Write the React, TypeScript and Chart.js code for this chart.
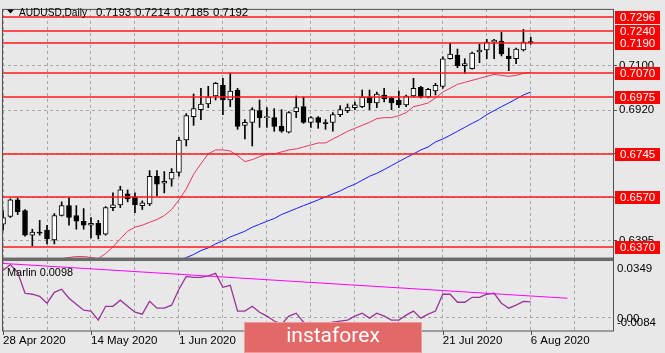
import React, { useEffect, useRef } from 'react';
import { Chart, registerables } from 'chart.js';

Chart.register(...registerables);

// ---------- data ----------
const opens = [0.6461, 0.6492, 0.6559, 0.6516, 0.6417, 0.6429, 0.6437, 0.6398, 0.6496, 0.6536, 0.6496, 0.6473, 0.6457, 0.6465, 0.6421, 0.6528, 0.6539, 0.6583, 0.6571, 0.6536, 0.6543, 0.6654, 0.6626, 0.6642, 0.6670, 0.6800, 0.6894, 0.6922, 0.6945, 0.6977, 0.7020, 0.6961, 0.7001, 0.6859, 0.6871, 0.6918, 0.6890, 0.6890, 0.6855, 0.6831, 0.6914, 0.6934, 0.6871, 0.6890, 0.6867, 0.6871, 0.6902, 0.6918, 0.6930, 0.6934, 0.6973, 0.6949, 0.6981, 0.6969, 0.6961, 0.6941, 0.6977, 0.7012, 0.6973, 0.6997, 0.7016, 0.7127, 0.7142, 0.7099, 0.7087, 0.7154, 0.7162, 0.7194, 0.7198, 0.7138, 0.7127, 0.7162, 0.7193];
const highs = [0.6516, 0.6563, 0.6567, 0.6520, 0.6441, 0.6477, 0.6457, 0.6504, 0.6551, 0.6567, 0.6536, 0.6524, 0.6488, 0.6477, 0.6532, 0.6587, 0.6614, 0.6599, 0.6587, 0.6555, 0.6677, 0.6677, 0.6673, 0.6685, 0.6811, 0.6906, 0.6985, 0.7008, 0.7016, 0.7032, 0.7048, 0.7068, 0.7008, 0.6882, 0.6930, 0.6961, 0.6930, 0.6926, 0.6922, 0.6914, 0.6977, 0.6973, 0.6894, 0.6894, 0.6882, 0.6910, 0.6938, 0.6945, 0.6953, 0.7001, 0.7001, 0.6993, 0.7008, 0.6972, 0.6997, 0.6981, 0.7048, 0.7016, 0.7008, 0.7028, 0.7135, 0.7190, 0.7166, 0.7127, 0.7154, 0.7186, 0.7205, 0.7205, 0.7233, 0.7170, 0.7170, 0.7245, 0.7214];
const lows = [0.6437, 0.6488, 0.6500, 0.6413, 0.6374, 0.6417, 0.6382, 0.6382, 0.6494, 0.6457, 0.6441, 0.6441, 0.6406, 0.6402, 0.6417, 0.6516, 0.6528, 0.6551, 0.6508, 0.6520, 0.6536, 0.6575, 0.6587, 0.6614, 0.6654, 0.6776, 0.6859, 0.6882, 0.6930, 0.6961, 0.6902, 0.6934, 0.6843, 0.6804, 0.6776, 0.6851, 0.6851, 0.6835, 0.6831, 0.6828, 0.6890, 0.6867, 0.6851, 0.6847, 0.6843, 0.6835, 0.6894, 0.6910, 0.6922, 0.6930, 0.6922, 0.6930, 0.6953, 0.6922, 0.6930, 0.6934, 0.6973, 0.6969, 0.6969, 0.6981, 0.7008, 0.7125, 0.7091, 0.7068, 0.7085, 0.7111, 0.7127, 0.7127, 0.7138, 0.7079, 0.7107, 0.7158, 0.7185];
const closes = [0.6488, 0.6559, 0.6512, 0.6417, 0.6429, 0.6425, 0.6402, 0.6496, 0.6536, 0.6488, 0.6473, 0.6457, 0.6465, 0.6417, 0.6528, 0.6539, 0.6599, 0.6563, 0.6539, 0.6547, 0.6654, 0.6622, 0.6634, 0.6670, 0.6800, 0.6898, 0.6926, 0.6945, 0.6973, 0.7028, 0.6961, 0.6997, 0.6855, 0.6871, 0.6922, 0.6890, 0.6894, 0.6855, 0.6835, 0.6910, 0.6930, 0.6871, 0.6890, 0.6871, 0.6866, 0.6902, 0.6922, 0.6930, 0.6941, 0.6973, 0.6949, 0.6985, 0.6965, 0.6949, 0.6941, 0.6977, 0.7008, 0.6973, 0.7004, 0.7020, 0.7127, 0.7146, 0.7099, 0.7107, 0.7150, 0.7162, 0.7194, 0.7202, 0.7146, 0.7127, 0.7166, 0.7194, 0.7192];

const maRed = [0.6318, 0.6322, 0.6320, 0.6316, 0.6314, 0.6312, 0.6314, 0.6318, 0.6322, 0.6327, 0.6331, 0.6331, 0.6327, 0.6323, 0.6343, 0.6370, 0.6402, 0.6433, 0.6449, 0.6457, 0.6469, 0.6480, 0.6496, 0.6520, 0.6559, 0.6603, 0.6662, 0.6705, 0.6744, 0.6760, 0.6760, 0.6756, 0.6737, 0.6713, 0.6721, 0.6733, 0.6744, 0.6744, 0.6752, 0.6760, 0.6764, 0.6772, 0.6780, 0.6788, 0.6788, 0.6804, 0.6819, 0.6835, 0.6847, 0.6859, 0.6871, 0.6886, 0.6890, 0.6890, 0.6898, 0.6910, 0.6934, 0.6941, 0.6949, 0.6969, 0.6993, 0.7008, 0.7024, 0.7032, 0.7040, 0.7048, 0.7056, 0.7064, 0.7060, 0.7056, 0.7060, 0.7068, 0.7072];
const maBlueStart = 24;
const maBlue = [0.6312, 0.6327, 0.6339, 0.6355, 0.6366, 0.6382, 0.6394, 0.6410, 0.6421, 0.6433, 0.6449, 0.6461, 0.6473, 0.6484, 0.6500, 0.6512, 0.6524, 0.6536, 0.6547, 0.6559, 0.6571, 0.6583, 0.6595, 0.6610, 0.6622, 0.6638, 0.6654, 0.6666, 0.6681, 0.6697, 0.6713, 0.6729, 0.6744, 0.6760, 0.6772, 0.6792, 0.6804, 0.6819, 0.6835, 0.6851, 0.6867, 0.6882, 0.6902, 0.6918, 0.6934, 0.6949, 0.6965, 0.6981, 0.6993];

const marlin = [0.0293, 0.0330, 0.0281, 0.0151, 0.0145, 0.0132, 0.0089, 0.0157, 0.0176, 0.0120, 0.0083, 0.0046, 0.0040, -0.0016, 0.0070, 0.0070, 0.0108, 0.0070, 0.0033, 0.0021, 0.0101, 0.0058, 0.0058, 0.0077, 0.0176, 0.0256, 0.0250, 0.0250, 0.0260, 0.0275, 0.0188, 0.0200, 0.0040, 0.0040, 0.0070, 0.0033, 0.0009, -0.0022, -0.0041, 0.0009, 0.0027, -0.0029, -0.0053, -0.0060, -0.0041, -0.0029, -0.0022, -0.0016, 0.0009, 0.0027, -0.0004, 0.0027, 0.0009, -0.0016, -0.0016, 0.0015, 0.0040, -0.0004, 0.0021, 0.0040, 0.0145, 0.0145, 0.0095, 0.0095, 0.0126, 0.0126, 0.0145, 0.0151, 0.0089, 0.0058, 0.0077, 0.0101, 0.0098];
const trendX = [0, 77];
const trendY = [0.0337, 0.0120];

const levels = [0.7296, 0.7240, 0.7190, 0.7070, 0.6975, 0.6745, 0.6570, 0.6370];
const priceTicks = [0.7100, 0.6920, 0.6745, 0.6570, 0.6395];
const subLabels = [0.0349, 0.0, -0.0084];
const subLabelText = ['0.0349', '0.00', '-0.0084'];
const gridIdx = [0, 6, 12, 18, 24, 30, 36, 42, 48, 54, 60, 66, 72, 78];
const dateTickIdx = [0, 12, 24, 36, 48, 60, 72];
const dateTickLabels = ['28 Apr 2020', '14 May 2020', '1 Jun 2020', '17 Jun 2020', '3 Jul 2020', '21 Jul 2020', '6 Aug 2020'];
const headerSymbol = 'AUDUSD,Daily';
const headerOhlc = ['0.7193', '0.7214', '0.7185', '0.7192'];
const marlinLabel = 'Marlin 0.0098';
const watermark = 'instaforex';

// ---------- styles ----------
const BG = '#E8E8E8';
const FONT = "'Liberation Sans', Arial, sans-serif";
const GRID = '#A6A6A6';
const FRAME = '#505050';

const overlay = {
  id: 'mtOverlay',
  beforeDraw(chart: any) {
    const { ctx, width, height } = chart;
    ctx.save();
    ctx.fillStyle = BG;
    ctx.fillRect(0, 0, width, height);
    ctx.restore();
  },
  afterDatasetsDraw(chart: any) {
    const { ctx, chartArea } = chart;
    const y = chart.scales.y;
    ctx.save();
    ctx.setLineDash([]);
    ctx.strokeStyle = '#FF1A1A';
    ctx.lineWidth = 1.5;
    levels.forEach((v) => {
      const py = Math.round(y.getPixelForValue(v));
      ctx.beginPath();
      ctx.moveTo(chartArea.left, py);
      ctx.lineTo(chartArea.right, py);
      ctx.stroke();
    });
    ctx.restore();
  },
  afterDraw(chart: any) {
    const { ctx, chartArea: ca } = chart;
    const x = chart.scales.x;
    const y = chart.scales.y;
    const y2 = chart.scales.y2;
    ctx.save();
    ctx.setLineDash([]);

    // separator between panes
    ctx.fillStyle = '#6B6B6B';
    ctx.fillRect(ca.left, y.bottom - 1.5, ca.right - ca.left, 3.5);

    // frame
    ctx.strokeStyle = FRAME;
    ctx.lineWidth = 1;
    ctx.strokeRect(ca.left + 0.5, ca.top + 0.5, ca.right - ca.left, ca.bottom - ca.top - 0.5);

    // level labels
    ctx.font = `11.5px ${FONT}`;
    ctx.textBaseline = 'middle';
    ctx.textAlign = 'left';
    levels.forEach((v) => {
      const py = Math.round(y.getPixelForValue(v));
      ctx.fillStyle = '#FF0000';
      ctx.fillRect(ca.right + 2, py - 6, 45, 13);
      ctx.fillStyle = '#FFFFFF';
      ctx.fillText(v.toFixed(4), ca.right + 7, py + 0.5);
    });

    // sub pane labels
    ctx.fillStyle = '#000000';
    const offs = [7, 1, -8];
    subLabels.forEach((v, i) => {
      ctx.fillText(subLabelText[i], ca.right + 4, y2.getPixelForValue(v) + offs[i]);
    });

    // date labels with tick marks
    ctx.strokeStyle = FRAME;
    dateTickIdx.forEach((idx, k) => {
      const px = x.getPixelForValue(idx);
      const rx = Math.round(px) + 0.5;
      ctx.beginPath();
      ctx.moveTo(rx, ca.bottom);
      ctx.lineTo(rx, ca.bottom + 4);
      ctx.stroke();
      ctx.fillStyle = '#000000';
      ctx.fillText(dateTickLabels[k], px, ca.bottom + 10);
    });

    // header
    ctx.fillStyle = '#000000';
    ctx.beginPath();
    ctx.moveTo(7, 9.5);
    ctx.lineTo(14, 9.5);
    ctx.lineTo(10.5, 13.5);
    ctx.closePath();
    ctx.fill();
    ctx.fillText(headerSymbol, 19, 12.5, 68);
    headerOhlc.forEach((t, i) => ctx.fillText(t, 96 + i * 39, 12.5));

    // indicator label
    ctx.fillText(marlinLabel, ca.left + 5, y2.top + 13.5, 66);

    // watermark
    ctx.fillStyle = '#E36868';
    ctx.fillRect(244, 322, 178, 31);
    ctx.strokeStyle = '#EE9A9A';
    ctx.strokeRect(244.5, 322.5, 177, 30);
    ctx.fillStyle = '#FFFFFF';
    ctx.font = `21px Roboto, ${FONT}`;
    ctx.textAlign = 'center';
    ctx.fillText(watermark, 333, 337);

    ctx.restore();
  },
};

export default function App() {
  const ref = useRef<HTMLCanvasElement>(null);

  useEffect(() => {
    const canvas = ref.current;
    if (!canvas) return;
    const idx = opens.map((_, i) => i);
    const bodies = idx.map((i) => ({ x: i, y: [opens[i], closes[i]] }));
    const wicks = idx.map((i) => ({ x: i, y: [lows[i], highs[i]] }));
    const bodyColors = idx.map((i) => (closes[i] >= opens[i] ? '#FFFFFF' : '#000000'));

    const chart = new Chart(canvas, {
      type: 'bar',
      data: {
        datasets: [
          {
            type: 'line',
            data: trendX.map((v, i) => ({ x: v, y: trendY[i] })),
            yAxisID: 'y2',
            borderColor: '#FF00FF',
            borderWidth: 1,
            pointRadius: 0,
            clip: 0,
            order: 0,
          } as any,
          {
            type: 'line',
            data: marlin.map((v, i) => ({ x: i, y: v })),
            yAxisID: 'y2',
            borderColor: '#993399',
            borderWidth: 1.3,
            pointRadius: 0,
            tension: 0,
            clip: 0,
            order: 1,
          } as any,
          {
            type: 'line',
            data: maBlue.map((v, i) => ({ x: i + maBlueStart, y: v })),
            yAxisID: 'y',
            borderColor: '#1A1AFF',
            borderWidth: 1,
            pointRadius: 0,
            clip: 0,
            order: 2,
          } as any,
          {
            type: 'line',
            data: maRed.map((v, i) => ({ x: i, y: v })),
            yAxisID: 'y',
            borderColor: '#E8385E',
            borderWidth: 1,
            pointRadius: 0,
            clip: 0,
            order: 3,
          } as any,
          {
            type: 'bar',
            data: bodies as any,
            yAxisID: 'y',
            backgroundColor: bodyColors,
            borderColor: '#000000',
            borderWidth: 1,
            borderSkipped: false,
            barThickness: 5,
            minBarLength: 1,
            grouped: false,
            clip: 0,
            order: 4,
          } as any,
          {
            type: 'bar',
            data: wicks as any,
            yAxisID: 'y',
            backgroundColor: '#000000',
            borderWidth: 0,
            barThickness: 1,
            grouped: false,
            clip: 0,
            order: 5,
          } as any,
        ],
      },
      options: {
        animation: false,
        responsive: false,
        maintainAspectRatio: false,
        events: [],
        layout: { padding: { top: 2, left: 2, right: 0, bottom: 0 } },
        plugins: {
          legend: { display: false },
          tooltip: { enabled: false },
          title: { display: false },
        },
        scales: {
          x: {
            type: 'linear',
            position: 'bottom',
            offset: false,
            min: -0.14,
            max: 83.22,
            afterBuildTicks: (s: any) => {
              s.ticks = gridIdx.map((v) => ({ value: v }));
            },
            afterFit: (s: any) => {
              s.height = 22;
            },
            ticks: { display: false },
            grid: { color: GRID, drawTicks: false, offset: false },
            border: { display: false, dash: [3, 3] },
          },
          y: {
            type: 'linear',
            position: 'right',
            stack: 'panes',
            stackWeight: 255.5,
            min: 0.632094,
            max: 0.732752,
            afterBuildTicks: (s: any) => {
              s.ticks = priceTicks.map((v) => ({ value: v }));
            },
            afterFit: (s: any) => {
              s.width = 52;
            },
            ticks: {
              color: '#000000',
              padding: 2,
              font: { family: FONT, size: 11.5 },
              callback: (v: any) => Number(v).toFixed(4),
            },
            grid: { color: GRID, drawTicks: true, tickLength: 4, tickColor: FRAME, tickBorderDash: [] },
            border: { display: false, dash: [3, 3] },
          },
          y2: {
            type: 'linear',
            position: 'right',
            stack: 'panes',
            stackWeight: 73.5,
            min: -0.0084,
            max: 0.036425,
            afterBuildTicks: (s: any) => {
              s.ticks = [{ value: 0 }];
            },
            afterFit: (s: any) => {
              s.width = 52;
            },
            ticks: { display: false },
            grid: { color: GRID, drawTicks: false },
            border: { display: false, dash: [3, 3] },
          },
        } as any,
      },
      plugins: [overlay as any],
    } as any);

    return () => chart.destroy();
  }, []);

  return (
    <div style={{ position: 'fixed', left: 0, top: 0, width: 665, height: 353, background: BG }}>
      <canvas ref={ref} width={665} height={353} style={{ display: 'block', width: 665, height: 353 }} />
    </div>
  );
}
